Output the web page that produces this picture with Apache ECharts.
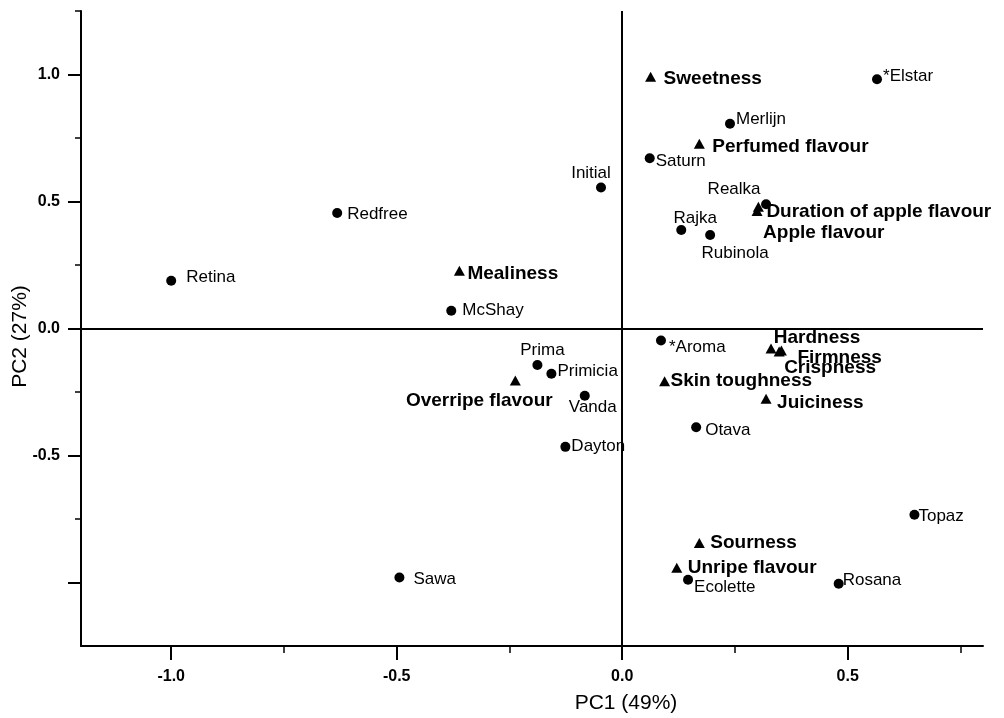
<!DOCTYPE html>
<html>
<head>
<meta charset="utf-8">
<script src="https://cdn.jsdelivr.net/npm/echarts@6/dist/echarts.min.js"></script>
<style>
html,body{margin:0;padding:0;background:#fff;}
#chart{width:1004px;height:718px;}
</style>
</head>
<body>
<div id="chart"></div>
<script>
// ---- data ----
const cultivarNames = ['Retina','Redfree','McShay','Initial','Saturn','Merlijn','*Elstar','Realka','Rajka','Rubinola','Prima','Primicia','Vanda','Dayton','*Aroma','Otava','Topaz','Rosana','Ecolette','Sawa'];
const cultivarPC1 = [-1.000,-0.632,-0.379,-0.047,0.061,0.239,0.565,0.319,0.131,0.195,-0.188,-0.157,-0.083,-0.126,0.086,0.164,0.648,0.480,0.146,-0.494];
const cultivarPC2 = [0.188,0.455,0.070,0.555,0.670,0.806,0.981,0.489,0.388,0.368,-0.144,-0.178,-0.265,-0.466,-0.047,-0.389,-0.733,-1.005,-0.989,-0.980];

const attributeNames = ['Sweetness','Perfumed flavour','Duration of apple flavour','Apple flavour','Mealiness','Overripe flavour','Hardness','Firmness','Crispness','Skin toughness','Juiciness','Sourness','Unripe flavour'];
const attributePC1 = [0.063,0.171,0.302,0.299,-0.361,-0.237,0.330,0.353,0.348,0.094,0.319,0.171,0.121];
const attributePC2 = [0.991,0.727,0.479,0.463,0.227,-0.205,-0.079,-0.087,-0.091,-0.208,-0.277,-0.844,-0.942];

const xMajorTicks = [-1.0,-0.5,0.0,0.5];
const xMinorTicks = [-0.75,-0.25,0.25,0.75];
const yMajorTicks = [-1.0,-0.5,0.0,0.5,1.0];
const yMinorTicks = [-0.75,-0.25,0.25,0.75,1.25];
const yTickLabels = [-0.5,0.0,0.5,1.0];

// ---- label placement (style): [align, dx, dy] relative to marker centre ----
const labelPlace = {
  'Retina':['left',15,-3],'Redfree':['left',10,1],'McShay':['left',11,0],'Initial':['center',-10,-14],
  'Saturn':['left',6,3],'Merlijn':['left',6,-4],'*Elstar':['left',6,-3],'Realka':['center',-32,-15],
  'Rajka':['center',14,-12],'Rubinola':['center',25,18],'Prima':['center',5,-15],'Primicia':['left',6,-2],
  'Vanda':['center',8,12],'Dayton':['left',6,-1],'*Aroma':['left',8,7],'Otava':['left',9,3],
  'Topaz':['left',4,2],'Rosana':['left',4,-3],'Ecolette':['left',6,8],'Sawa':['left',14,2],
  'Sweetness':['left',13,2],'Perfumed flavour':['left',13,3],'Duration of apple flavour':['left',8,5],
  'Apple flavour':['left',6,22],'Mealiness':['left',8,3],'Overripe flavour':['center',-36,20],
  'Hardness':['center',46,-11],'Firmness':['left',16,7],'Crispness':['left',5,16],
  'Skin toughness':['left',6,-1],'Juiciness':['left',11,4],'Sourness':['left',11,0],'Unripe flavour':['left',11,0]
};

const FONT = "'Liberation Sans', Arial, Helvetica, sans-serif";

function buildItems(names, xs, ys, fontSize, weight) {
  return names.map((n, i) => {
    const p = labelPlace[n];
    return {
      name: n,
      value: [xs[i], ys[i]],
      label: {
        show: true, position: 'inside', align: p[0], verticalAlign: 'middle',
        offset: [p[1], p[2]], formatter: n, color: '#000',
        fontSize: fontSize, fontWeight: weight, fontFamily: FONT,
        textBorderWidth: 0
      }
    };
  });
}

const chart = echarts.init(document.getElementById('chart'), null, {renderer: 'canvas'});

const axisCommonX = {
  type: 'value', min: -1.2, max: 0.8, position: 'bottom', splitLine: {show: false}
};
const axisCommonY = {
  type: 'value', min: -1.25, max: 1.25, interval: 0.25, position: 'left', splitLine: {show: false}
};

chart.setOption({
  animation: false,
  backgroundColor: '#fff',
  grid: {left: 81, right: 21, top: 11, bottom: 72, containLabel: false, outerBoundsMode: 'none'},
  xAxis: [
    Object.assign({}, axisCommonX, {
      name: 'PC1 (49%)', nameLocation: 'middle', nameGap: 47, nameMoveOverlap: false,
      nameTextStyle: {fontSize: 21, fontFamily: FONT, color: '#000', padding: [0, 0, 0, 188]},
      axisLine: {show: true, onZero: false, lineStyle: {color: '#000', width: 2}},
      axisTick: {show: true, customValues: xMajorTicks, length: 14, lineStyle: {color: '#000', width: 2}},
      axisLabel: {show: true, customValues: xMajorTicks, margin: 23, fontSize: 16, fontWeight: 'bold',
        fontFamily: FONT, color: '#000', formatter: v => v.toFixed(1)}
    }),
    Object.assign({}, axisCommonX, {
      axisLine: {show: false, onZero: false},
      axisTick: {show: true, customValues: xMinorTicks, length: 7, lineStyle: {color: '#000', width: 1.5}},
      axisLabel: {show: false}
    })
  ],
  yAxis: [
    Object.assign({}, axisCommonY, {
      name: 'PC2 (27%)', nameLocation: 'middle', nameGap: 50, nameMoveOverlap: false,
      nameTextStyle: {fontSize: 21, fontFamily: FONT, color: '#000', padding: [0, 16, 0, 0]},
      axisLine: {show: true, onZero: false, lineStyle: {color: '#000', width: 2}},
      axisTick: {show: true, customValues: yMajorTicks, length: 13, lineStyle: {color: '#000', width: 2}},
      axisLabel: {show: true, customValues: yTickLabels, margin: 21, fontSize: 16, fontWeight: 'bold',
        fontFamily: FONT, color: '#000', formatter: v => v.toFixed(1)}
    }),
    Object.assign({}, axisCommonY, {
      axisLine: {show: false, onZero: false},
      axisTick: {show: true, customValues: yMinorTicks, length: 6, lineStyle: {color: '#000', width: 1.5}},
      axisLabel: {show: false}
    })
  ],
  series: [
    {
      name: 'Cultivars', type: 'scatter', xAxisIndex: 0, yAxisIndex: 0,
      symbol: 'circle', symbolSize: 10,
      itemStyle: {color: '#000', opacity: 1},
      data: buildItems(cultivarNames, cultivarPC1, cultivarPC2, 17, 'normal'),
      markLine: {
        silent: true, symbol: ['none', 'none'], label: {show: false},
        lineStyle: {color: '#000', width: 2, type: 'solid'},
        emphasis: {disabled: true},
        data: [{xAxis: 0}, {yAxis: 0}]
      },
      z: 3
    },
    {
      name: 'Attributes', type: 'scatter', xAxisIndex: 0, yAxisIndex: 0,
      symbol: 'triangle', symbolSize: [11, 10],
      itemStyle: {color: '#000', opacity: 1},
      data: buildItems(attributeNames, attributePC1, attributePC2, 19, 'bold'),
      z: 4
    }
  ]
});
</script>
</body>
</html>
